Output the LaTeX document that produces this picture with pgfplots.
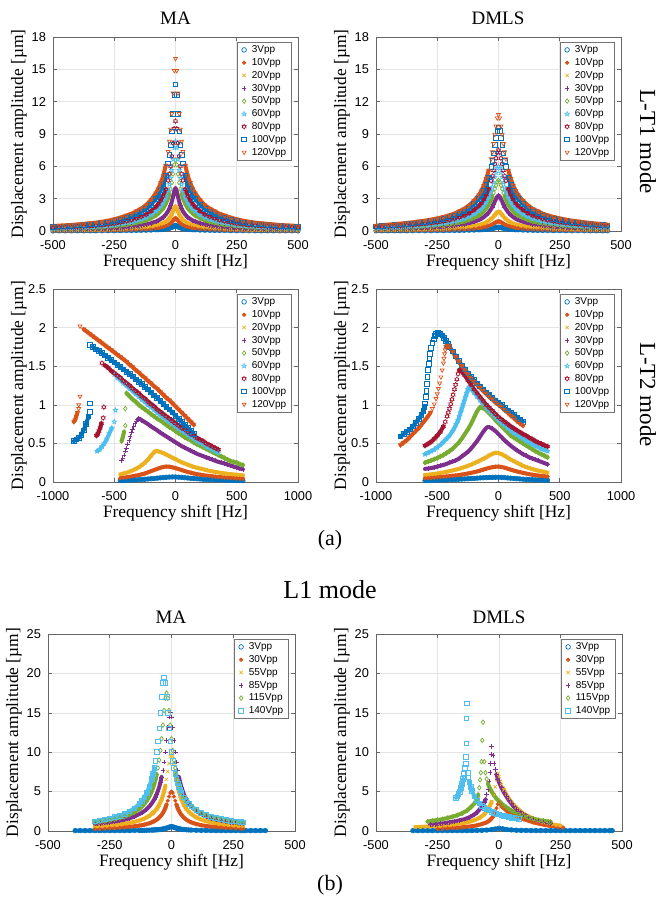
\documentclass[border=0pt]{standalone}
\usepackage{fontspec}
\setmainfont{Liberation Serif}
\newfontfamily\sansf{Liberation Sans}
\usepackage{pgfplots}
\pgfplotsset{compat=1.18}
\usepackage{pgfplotstable}
\usetikzlibrary{plotmarks}
\definecolor{c1}{rgb}{0,0.447,0.741}
\definecolor{c2}{rgb}{0.850,0.325,0.098}
\definecolor{c3}{rgb}{0.929,0.694,0.125}
\definecolor{c4}{rgb}{0.494,0.184,0.556}
\definecolor{c5}{rgb}{0.466,0.674,0.188}
\definecolor{c6}{rgb}{0.301,0.745,0.933}
\definecolor{c7}{rgb}{0.635,0.078,0.184}
\newcommand\tickfont{\sansf\fontsize{6.4}{7}\selectfont}
\newcommand\legfont{\sansf\fontsize{5}{5.8}\selectfont}
\newcommand\labfont{\fontsize{8.7}{10}\selectfont}
\newcommand\plotc[2]{\edef\plotctmp{\noexpand\addplot[#1] coordinates {#2};}\plotctmp}

% hollow pentagram and hexagram marks (MATLAB-like)
\pgfdeclareplotmark{penta}{%
  \pgfpathmoveto{\pgfpointpolar{90}{\pgfplotmarksize}}%
  \pgfpathlineto{\pgfpointpolar{126}{0.42\pgfplotmarksize}}%
  \pgfpathlineto{\pgfpointpolar{162}{\pgfplotmarksize}}%
  \pgfpathlineto{\pgfpointpolar{198}{0.42\pgfplotmarksize}}%
  \pgfpathlineto{\pgfpointpolar{234}{\pgfplotmarksize}}%
  \pgfpathlineto{\pgfpointpolar{270}{0.42\pgfplotmarksize}}%
  \pgfpathlineto{\pgfpointpolar{306}{\pgfplotmarksize}}%
  \pgfpathlineto{\pgfpointpolar{342}{0.42\pgfplotmarksize}}%
  \pgfpathlineto{\pgfpointpolar{18}{\pgfplotmarksize}}%
  \pgfpathlineto{\pgfpointpolar{54}{0.42\pgfplotmarksize}}%
  \pgfpathclose\pgfusepathqstroke}
\pgfdeclareplotmark{hexa}{%
  \pgfpathmoveto{\pgfpointpolar{90}{\pgfplotmarksize}}%
  \pgfpathlineto{\pgfpointpolar{120}{0.6\pgfplotmarksize}}%
  \pgfpathlineto{\pgfpointpolar{150}{\pgfplotmarksize}}%
  \pgfpathlineto{\pgfpointpolar{180}{0.6\pgfplotmarksize}}%
  \pgfpathlineto{\pgfpointpolar{210}{\pgfplotmarksize}}%
  \pgfpathlineto{\pgfpointpolar{240}{0.6\pgfplotmarksize}}%
  \pgfpathlineto{\pgfpointpolar{270}{\pgfplotmarksize}}%
  \pgfpathlineto{\pgfpointpolar{300}{0.6\pgfplotmarksize}}%
  \pgfpathlineto{\pgfpointpolar{330}{\pgfplotmarksize}}%
  \pgfpathlineto{\pgfpointpolar{0}{0.6\pgfplotmarksize}}%
  \pgfpathlineto{\pgfpointpolar{30}{\pgfplotmarksize}}%
  \pgfpathlineto{\pgfpointpolar{60}{0.6\pgfplotmarksize}}%
  \pgfpathclose\pgfusepathqstroke}

\pgfplotstableread{
f a3 a10 a20 a30 a50 a60 a80 a100 a120
-500 .01 .03 .07 .12 .19 .24 .30 .39 .46
-475 .02 .04 .07 .12 .20 .26 .32 .42 .50
-450 .02 .04 .08 .13 .22 .27 .34 .45 .53
-425 .02 .04 .08 .14 .23 .29 .36 .48 .56
-400 .02 .05 .09 .15 .25 .32 .39 .52 .61
-375 .02 .05 .09 .16 .27 .34 .42 .56 .66
-350 .02 .05 .10 .18 .30 .37 .46 .61 .72
-325 .02 .06 .11 .20 .32 .41 .50 .67 .78
-300 .03 .06 .12 .22 .36 .45 .55 .73 .86
-275 .03 .07 .14 .24 .40 .50 .61 .82 .96
-250 .03 .08 .16 .27 .45 .56 .69 .92 1.09
-225 .04 .09 .18 .31 .51 .65 .80 1.06 1.25
-200 .05 .11 .21 .36 .59 .75 .92 1.22 1.44
-180 .05 .12 .23 .40 .66 .83 1.02 1.36 1.60
-160 .06 .14 .26 .46 .76 .95 1.17 1.56 1.84
-140 .07 .16 .30 .52 .86 1.08 1.33 1.77 2.08
-120 .08 .18 .35 .60 .99 1.25 1.53 2.04 2.40
-100 .09 .22 .41 .72 1.19 1.49 1.84 2.45 2.88
-80 .11 .26 .51 .88 1.45 1.83 2.24 2.99 3.52
-70 .12 .29 .56 .98 1.62 2.03 2.50 3.33 3.92
-60 .14 .34 .64 1.12 1.85 2.32 2.86 3.81 4.48
-50 .16 .38 .74 1.28 2.11 2.66 3.26 4.35 5.12
-40 .19 .46 .87 1.52 2.51 3.15 3.88 5.17 6.08
-30 .23 .55 1.06 1.84 3.04 3.82 4.69 6.26 7.36
-25 .26 .62 1.20 2.08 3.43 4.32 5.30 7.07 8.32
-20 .30 .71 1.36 2.36 3.89 4.90 6.02 8.02 9.44
-15 .34 .82 1.56 2.72 4.49 5.64 6.94 9.25 10.88
-10 .40 .96 1.84 3.20 5.28 6.64 8.16 10.88 12.80
-5 .47 1.12 2.14 3.72 6.14 7.72 9.49 12.65 14.88
0 .50 1.20 2.30 4.00 6.60 8.30 10.20 13.60 16.00
5 .47 1.12 2.14 3.72 6.14 7.72 9.49 12.65 14.88
10 .40 .96 1.84 3.20 5.28 6.64 8.16 10.88 12.80
15 .34 .82 1.56 2.72 4.49 5.64 6.94 9.25 10.88
20 .30 .71 1.36 2.36 3.89 4.90 6.02 8.02 9.44
25 .26 .62 1.20 2.08 3.43 4.32 5.30 7.07 8.32
30 .23 .55 1.06 1.84 3.04 3.82 4.69 6.26 7.36
40 .19 .46 .87 1.52 2.51 3.15 3.88 5.17 6.08
50 .16 .38 .74 1.28 2.11 2.66 3.26 4.35 5.12
60 .14 .34 .64 1.12 1.85 2.32 2.86 3.81 4.48
70 .12 .29 .56 .98 1.62 2.03 2.50 3.33 3.92
80 .11 .26 .51 .88 1.45 1.83 2.24 2.99 3.52
100 .09 .22 .41 .72 1.19 1.49 1.84 2.45 2.88
120 .08 .18 .35 .60 .99 1.25 1.53 2.04 2.40
140 .07 .16 .30 .52 .86 1.08 1.33 1.77 2.08
160 .06 .14 .26 .46 .76 .95 1.17 1.56 1.84
180 .05 .12 .23 .40 .66 .83 1.02 1.36 1.60
200 .05 .11 .21 .36 .59 .75 .92 1.22 1.44
225 .04 .09 .18 .31 .51 .65 .80 1.06 1.25
250 .03 .08 .16 .27 .45 .56 .69 .92 1.09
275 .03 .07 .14 .24 .40 .50 .61 .82 .96
300 .03 .06 .12 .22 .36 .45 .55 .73 .86
325 .02 .06 .11 .20 .32 .41 .50 .67 .78
350 .02 .05 .10 .18 .30 .37 .46 .61 .72
375 .02 .05 .09 .16 .27 .34 .42 .56 .66
400 .02 .05 .09 .15 .25 .32 .39 .52 .61
425 .02 .04 .08 .14 .23 .29 .36 .48 .56
450 .02 .04 .08 .13 .22 .27 .34 .45 .53
475 .02 .04 .07 .12 .20 .26 .32 .42 .50
500 .01 .03 .07 .12 .19 .24 .30 .39 .46
}\maLTone

\pgfplotstableread{
f a3 a10 a20 a30 a50 a60 a80 a100 a120
-500 .02 .04 .08 .15 .22 .28 .35 .44 .50
-475 .02 .05 .09 .17 .24 .30 .38 .48 .54
-450 .02 .05 .10 .18 .26 .33 .41 .53 .59
-425 .02 .05 .11 .19 .28 .35 .44 .57 .64
-400 .02 .06 .12 .21 .30 .38 .48 .61 .69
-375 .02 .06 .12 .23 .32 .41 .52 .66 .75
-350 .03 .07 .14 .25 .35 .45 .56 .72 .81
-325 .03 .07 .15 .27 .39 .49 .62 .79 .89
-300 .03 .08 .16 .29 .42 .53 .67 .85 .96
-275 .03 .09 .18 .32 .46 .59 .74 .94 1.06
-250 .04 .10 .19 .36 .51 .65 .81 1.04 1.17
-225 .04 .11 .22 .40 .56 .72 .90 1.15 1.30
-200 .05 .12 .24 .45 .63 .81 1.01 1.30 1.46
-180 .05 .14 .27 .50 .71 .90 1.13 1.44 1.62
-160 .06 .15 .31 .56 .80 1.02 1.28 1.63 1.84
-140 .07 .17 .34 .63 .89 1.14 1.43 1.82 2.05
-120 .08 .20 .40 .73 1.03 1.32 1.65 2.11 2.38
-100 .09 .23 .47 .86 1.22 1.56 1.95 2.50 2.81
-80 .11 .28 .56 1.02 1.46 1.86 2.33 2.98 3.35
-70 .12 .31 .62 1.14 1.62 2.07 2.59 3.31 3.73
-60 .14 .35 .70 1.29 1.83 2.34 2.93 3.74 4.21
-50 .16 .41 .81 1.49 2.12 2.70 3.38 4.32 4.86
-40 .18 .47 .94 1.72 2.44 3.12 3.90 4.99 5.62
-30 .22 .56 1.12 2.05 2.91 3.72 4.65 5.95 6.70
-25 .24 .61 1.22 2.24 3.20 4.08 5.10 6.53 7.34
-20 .26 .68 1.35 2.48 3.53 4.50 5.63 7.20 8.10
-15 .29 .75 1.49 2.74 3.90 4.98 6.23 7.97 8.96
-10 .32 .81 1.62 2.97 4.23 5.40 6.75 8.64 9.72
-5 .34 .87 1.75 3.20 4.56 5.82 7.28 9.31 10.48
0 .35 .90 1.80 3.30 4.70 6.00 7.50 9.60 10.80
5 .34 .87 1.75 3.20 4.56 5.82 7.28 9.31 10.48
10 .32 .81 1.62 2.97 4.23 5.40 6.75 8.64 9.72
15 .29 .75 1.49 2.74 3.90 4.98 6.23 7.97 8.96
20 .26 .68 1.35 2.48 3.53 4.50 5.63 7.20 8.10
25 .24 .61 1.22 2.24 3.20 4.08 5.10 6.53 7.34
30 .22 .56 1.12 2.05 2.91 3.72 4.65 5.95 6.70
40 .18 .47 .94 1.72 2.44 3.12 3.90 4.99 5.62
50 .16 .41 .81 1.49 2.12 2.70 3.38 4.32 4.86
60 .14 .35 .70 1.29 1.83 2.34 2.93 3.74 4.21
70 .12 .31 .62 1.14 1.62 2.07 2.59 3.31 3.73
80 .11 .28 .56 1.02 1.46 1.86 2.33 2.98 3.35
100 .09 .23 .47 .86 1.22 1.56 1.95 2.50 2.81
120 .08 .20 .40 .73 1.03 1.32 1.65 2.11 2.38
140 .07 .17 .34 .63 .89 1.14 1.43 1.82 2.05
160 .06 .15 .31 .56 .80 1.02 1.28 1.63 1.84
180 .05 .14 .27 .50 .71 .90 1.13 1.44 1.62
200 .05 .12 .24 .45 .63 .81 1.01 1.30 1.46
225 .04 .11 .22 .40 .56 .72 .90 1.15 1.30
250 .04 .10 .19 .36 .51 .65 .81 1.04 1.17
275 .03 .09 .18 .32 .46 .59 .74 .94 1.06
300 .03 .08 .16 .29 .42 .53 .67 .85 .96
325 .03 .07 .15 .27 .39 .49 .62 .79 .89
350 .03 .07 .14 .25 .35 .45 .56 .72 .81
375 .02 .06 .12 .23 .32 .41 .52 .66 .75
400 .02 .06 .12 .21 .30 .38 .48 .61 .69
425 .02 .05 .11 .19 .28 .35 .44 .57 .64
445 .02 .05 .10 .18 .26 .34 .42 .54 .60
}\dmLTone

\pgfplotstableread{
x a3 a30 a55 a85 a115 a140
-390 .05 nan nan nan nan nan
-370 .05 nan nan nan nan nan
-350 .05 nan nan nan nan nan
-330 .05 nan nan nan nan nan
-310 .05 .29 .57 .89 1.09 1.25
-290 .05 .31 .61 .95 1.16 1.35
-270 .05 .33 .65 1.01 1.26 1.46
-250 .05 .36 .71 1.10 1.37 1.60
-230 .05 .39 .76 1.20 1.49 1.76
-210 .05 .43 .83 1.31 1.65 1.94
-190 .05 .47 .92 1.46 1.84 2.18
-170 .06 .53 1.03 1.62 2.08 2.50
-150 .07 .60 1.17 1.85 2.40 2.89
-130 .08 .69 1.34 2.15 2.82 3.45
-120 .08 .74 1.45 2.33 3.10 3.82
-110 .09 .81 1.58 2.54 3.43 4.29
-100 .10 .89 1.73 2.79 3.85 4.86
-90 .11 .98 1.92 3.11 4.36 5.60
-80 .12 1.10 2.16 3.50 5.02 6.61
-75 .13 1.17 2.28 3.74 5.44 7.23
-70 .14 1.25 2.44 4.01 5.93 8.00
-65 .15 1.34 2.62 4.31 6.49 8.91
-60 .16 1.44 2.81 4.67 7.18 10.02
-55 .17 1.56 3.05 5.09 8.00 11.39
-50 .19 1.70 3.32 5.57 9.00 13.05
-45 .20 1.86 3.64 6.15 10.22 14.98
-40 .23 2.05 4.02 6.86 11.71 17.04
-35 .25 2.29 4.48 7.71 13.44 18.78
-30 .28 2.57 5.04 8.76 15.30 19.50
-25 .32 2.92 5.72 10.04 16.85 18.78
-20 .37 3.35 6.56 11.52 17.50 17.04
-15 .42 3.84 7.53 13.11 16.85 14.98
-10 .48 4.37 8.57 14.45 15.30 13.05
-5 .53 4.82 9.44 15.00 13.44 11.39
0 .55 5.00 9.80 14.45 11.71 10.02
5 .53 4.82 9.44 13.11 10.22 8.91
10 .48 4.37 8.57 11.52 9.00 8.00
15 .42 3.84 7.53 10.04 8.00 7.23
20 .37 3.35 6.56 8.76 7.18 6.61
25 .32 2.92 5.72 7.71 6.49 6.06
30 .28 2.57 5.04 6.86 5.93 5.60
35 .25 2.29 4.48 6.15 5.44 5.21
40 .23 2.05 4.02 5.57 5.02 4.86
50 .19 1.70 3.32 4.67 4.36 4.29
60 .16 1.44 2.81 4.01 3.85 3.82
70 .14 1.25 2.44 3.50 3.43 3.45
80 .12 1.10 2.16 3.11 3.10 3.14
100 .10 .89 1.73 2.54 2.59 2.67
120 .08 .74 1.45 2.15 2.24 2.32
140 .07 .64 1.25 1.85 1.96 2.05
160 .06 .56 1.10 1.62 1.74 1.83
180 .05 .50 .98 1.46 1.58 1.66
200 .05 .45 .88 1.31 1.44 1.52
220 .05 .41 .80 1.20 1.31 1.40
240 .05 .38 .74 1.10 1.21 1.29
260 .05 .35 .68 1.01 1.12 1.21
280 .05 .32 .63 .95 1.05 1.13
290 .05 .31 .61 .93 1.02 1.09
300 .05 nan nan nan nan nan
320 .05 nan nan nan nan nan
340 .05 nan nan nan nan nan
360 .05 nan nan nan nan nan
380 .05 nan nan nan nan nan
}\maLone

% ---- L-T2 MA series
\def\mtA{(-450,.02)(-425,.02)(-400,.022)(-375,.024)(-350,.026)(-325,.028)(-300,.03)(-275,.033)(-250,.036)(-225,.039)(-200,.042)(-175,.046)(-150,.05)(-125,.054)(-100,.058)(-75,.061)(-50,.064)(-25,.065)(0,.065)(25,.063)(50,.06)(75,.056)(100,.052)(125,.048)(150,.045)(175,.042)(200,.039)(225,.036)(250,.034)(275,.032)(300,.03)(325,.028)(350,.027)(375,.026)(400,.024)(425,.023)(450,.022)(475,.021)(500,.02)(525,.019)(550,.018)}
\def\mtB{(-450,.05)(-425,.055)(-400,.06)(-375,.067)(-350,.075)(-325,.082)(-300,.09)(-275,.1)(-250,.11)(-225,.125)(-200,.14)(-175,.155)(-150,.17)(-125,.183)(-100,.195)(-75,.2)(-50,.198)(-25,.19)(0,.18)(25,.168)(50,.155)(75,.142)(100,.13)(125,.12)(150,.11)(175,.102)(200,.095)(225,.089)(250,.083)(275,.078)(300,.073)(325,.069)(350,.065)(375,.061)(400,.058)(425,.055)(450,.052)(475,.05)(500,.047)(525,.045)(550,.043)}
\def\mtC{(-450,.10)(-425,.11)(-400,.12)(-375,.135)(-350,.15)(-325,.17)(-300,.19)(-275,.22)(-250,.25)(-225,.29)(-200,.34)(-175,.385)(-160,.40)(-150,.40)(-125,.39)(-100,.375)(-75,.355)(-50,.335)(-25,.315)(0,.295)(25,.275)(50,.255)(75,.24)(100,.225)(125,.21)(150,.195)(175,.185)(200,.175)(225,.165)(250,.155)(275,.145)(300,.138)(325,.13)(350,.124)(375,.118)(400,.112)(425,.107)(450,.102)(475,.098)(500,.094)(525,.09)(550,.087)}
\def\mtD{(-440,.28)(-430,.31)(-420,.35)(-410,.40)(-400,.44)(-390,.49)(-380,.54)(-370,.59)(-360,.64)(-350,.68)(-340,.72)(-330,.76)(-320,.79)(-310,.81)(-300,.82)(-290,.815)(-275,.80)(-250,.775)(-225,.75)(-200,.72)(-175,.695)(-150,.67)(-125,.64)(-100,.615)(-75,.59)(-50,.565)(-25,.54)(0,.515)(25,.49)(50,.465)(75,.445)(100,.425)(125,.405)(150,.385)(175,.365)(200,.35)(225,.335)(250,.32)(275,.305)(300,.29)(325,.275)(350,.26)(375,.25)(400,.24)(425,.225)(450,.215)(475,.2)(500,.19)(525,.175)(550,.165)}
\def\mtE{(550,.22)(525,.23)(500,.25)(475,.26)(450,.27)(425,.29)(400,.31)(375,.33)(350,.35)(325,.37)(300,.39)(275,.41)(250,.43)(225,.45)(200,.47)(175,.49)(150,.51)(125,.54)(100,.56)(75,.58)(50,.61)(25,.63)(0,.66)(-25,.69)(-50,.71)(-75,.74)(-100,.77)(-125,.80)(-150,.82)(-175,.85)(-200,.88)(-225,.91)(-250,.94)(-275,.97)(-300,1.0)(-325,1.04)(-350,1.07)(-375,1.11)(-400,1.15)(-410,.95)(-410,.73)(-420,.65)(-430,.58)(-440,.53)}
\def\mtF{(350,.38)(325,.40)(300,.42)(275,.44)(250,.46)(225,.49)(200,.51)(175,.53)(150,.56)(125,.58)(100,.61)(75,.64)(50,.66)(25,.69)(0,.72)(-25,.75)(-50,.78)(-75,.81)(-100,.84)(-125,.87)(-150,.90)(-175,.94)(-200,.97)(-225,1.0)(-250,1.04)(-275,1.07)(-300,1.11)(-325,1.14)(-350,1.18)(-375,1.21)(-400,1.25)(-425,1.28)(-450,1.32)(-475,1.35)(-500,1.39)(-490,.93)(-500,.78)(-520,.70)(-540,.63)(-560,.56)(-580,.50)(-600,.46)(-620,.42)(-640,.40)}
\def\mtG{(350,.42)(325,.44)(300,.46)(275,.48)(250,.50)(225,.53)(200,.55)(175,.57)(150,.60)(125,.62)(100,.65)(75,.68)(50,.70)(25,.73)(0,.76)(-25,.79)(-50,.82)(-75,.85)(-100,.88)(-125,.91)(-150,.94)(-175,.98)(-200,1.01)(-225,1.04)(-250,1.08)(-275,1.11)(-300,1.15)(-325,1.18)(-350,1.21)(-375,1.25)(-400,1.28)(-425,1.31)(-450,1.35)(-475,1.38)(-500,1.41)(-525,1.44)(-550,1.48)(-575,1.51)(-600,1.54)(-585,.97)(-590,.83)(-605,.76)(-615,.70)(-625,.66)(-635,.62)(-645,.60)}
\def\mtH{(150,.62)(125,.66)(100,.70)(75,.74)(50,.78)(25,.82)(0,.86)(-25,.90)(-50,.94)(-75,.97)(-100,1.01)(-125,1.05)(-150,1.09)(-175,1.12)(-200,1.16)(-225,1.20)(-250,1.23)(-275,1.27)(-300,1.30)(-325,1.33)(-350,1.37)(-375,1.40)(-400,1.43)(-425,1.46)(-450,1.49)(-475,1.52)(-500,1.55)(-525,1.58)(-550,1.61)(-575,1.64)(-600,1.67)(-625,1.70)(-650,1.72)(-675,1.75)(-700,1.78)(-700,1.02)(-700,.91)(-710,.85)(-730,.75)(-750,.67)(-770,.61)(-790,.57)(-810,.55)(-830,.53)}
\def\mtI{(150,.74)(125,.78)(100,.82)(75,.86)(50,.90)(25,.94)(0,.98)(-25,1.02)(-50,1.06)(-75,1.09)(-100,1.13)(-125,1.17)(-150,1.21)(-175,1.24)(-200,1.28)(-225,1.31)(-250,1.35)(-275,1.38)(-300,1.42)(-325,1.45)(-350,1.49)(-375,1.52)(-400,1.56)(-425,1.59)(-450,1.62)(-475,1.65)(-500,1.68)(-525,1.71)(-550,1.74)(-575,1.77)(-600,1.80)(-625,1.83)(-650,1.86)(-675,1.89)(-700,1.92)(-725,1.95)(-750,1.98)(-780,2.02)(-780,1.11)(-790,1.0)(-790,.95)(-800,.90)(-810,.85)(-820,.80)(-830,.78)}

% ---- L-T2 DMLS series
\def\dtA{(-600,.02)(-575,.02)(-550,.022)(-525,.023)(-500,.024)(-475,.025)(-450,.026)(-425,.028)(-400,.03)(-375,.032)(-350,.034)(-325,.036)(-300,.038)(-275,.04)(-250,.042)(-225,.045)(-200,.047)(-175,.05)(-150,.053)(-125,.055)(-100,.057)(-75,.059)(-50,.06)(-25,.061)(0,.062)(25,.06)(50,.057)(75,.053)(100,.05)(125,.046)(150,.043)(175,.04)(200,.037)(225,.034)(250,.032)(275,.03)(300,.028)(325,.026)(350,.025)(375,.023)(400,.022)}
\def\dtB{(-600,.05)(-575,.052)(-550,.055)(-525,.058)(-500,.061)(-475,.064)(-450,.068)(-425,.072)(-400,.076)(-375,.08)(-350,.085)(-325,.09)(-300,.096)(-275,.103)(-250,.11)(-225,.118)(-200,.127)(-175,.137)(-150,.148)(-125,.16)(-100,.172)(-75,.183)(-50,.192)(-25,.198)(0,.2)(25,.195)(50,.185)(75,.172)(100,.16)(125,.148)(150,.137)(175,.127)(200,.118)(225,.11)(250,.102)(275,.095)(300,.089)(325,.083)(350,.078)(375,.074)(400,.07)}
\def\dtC{(-600,.09)(-575,.095)(-550,.1)(-525,.105)(-500,.11)(-475,.117)(-450,.124)(-425,.132)(-400,.14)(-375,.15)(-350,.16)(-325,.17)(-300,.182)(-275,.195)(-250,.21)(-225,.225)(-200,.242)(-175,.26)(-150,.28)(-125,.30)(-100,.32)(-75,.345)(-50,.365)(-25,.38)(0,.375)(25,.36)(50,.34)(75,.315)(100,.29)(125,.27)(150,.25)(175,.23)(200,.21)(225,.195)(250,.18)(275,.168)(300,.157)(325,.147)(350,.138)(375,.13)(400,.122)}
\def\dtD{(-600,.17)(-575,.175)(-550,.18)(-525,.19)(-500,.20)(-475,.21)(-450,.22)(-425,.235)(-400,.25)(-375,.265)(-350,.28)(-325,.30)(-300,.33)(-275,.36)(-250,.39)(-225,.43)(-200,.48)(-175,.53)(-150,.59)(-125,.65)(-110,.68)(-100,.70)(-90,.71)(-75,.71)(-60,.70)(-50,.69)(-25,.66)(0,.62)(25,.58)(50,.54)(75,.505)(100,.47)(125,.44)(150,.41)(175,.385)(200,.36)(225,.34)(250,.32)(275,.305)(300,.29)(325,.275)(350,.26)(375,.245)(400,.23)}
\def\dtE{(-600,.25)(-575,.265)(-550,.28)(-525,.295)(-500,.31)(-475,.33)(-450,.35)(-425,.375)(-400,.40)(-375,.43)(-350,.47)(-325,.51)(-300,.56)(-275,.62)(-250,.68)(-225,.75)(-210,.80)(-195,.85)(-180,.90)(-165,.94)(-150,.97)(-135,.965)(-125,.96)(-100,.93)(-75,.89)(-50,.85)(-25,.80)(0,.76)(25,.72)(50,.68)(75,.64)(100,.60)(125,.575)(150,.55)(175,.525)(200,.50)(225,.475)(250,.45)(275,.425)(300,.40)(325,.38)(350,.36)(375,.34)(400,.32)}
\def\dtF{(-600,.36)(-575,.38)(-550,.40)(-525,.42)(-500,.45)(-475,.48)(-450,.52)(-425,.56)(-400,.60)(-375,.66)(-360,.70)(-345,.75)(-330,.80)(-320,.85)(-310,.90)(-300,.95)(-290,1.0)(-280,1.05)(-270,1.10)(-260,1.15)(-250,1.2)(-240,1.23)(-225,1.21)(-200,1.16)(-175,1.11)(-150,1.06)(-125,1.01)(-100,.96)(-75,.92)(-50,.88)(-25,.84)(0,.80)(25,.76)(50,.73)(75,.695)(100,.66)(125,.635)(150,.61)(175,.585)(200,.56)(225,.535)(250,.51)(275,.49)(300,.47)(325,.45)(350,.43)(375,.415)(400,.40)}
\def\dtG{(-600,.47)(-575,.495)(-550,.52)(-525,.56)(-500,.60)(-475,.65)(-450,.72)(-435,.78)(-420,.85)(-410,.90)(-400,.95)(-390,1.01)(-380,1.07)(-370,1.13)(-360,1.20)(-350,1.26)(-340,1.33)(-330,1.40)(-320,1.45)(-310,1.45)(-300,1.43)(-275,1.38)(-250,1.32)(-225,1.26)(-200,1.20)(-175,1.15)(-150,1.10)(-125,1.05)(-100,1.00)(-75,.96)(-50,.92)(-25,.88)(0,.84)(25,.81)(50,.78)(75,.75)(100,.72)(125,.695)(150,.67)(175,.645)(200,.62)(225,.60)(250,.575)(275,.555)(300,.53)(325,.51)(350,.495)(375,.475)(400,.46)}
\def\dtH{(-800,.59)(-775,.62)(-750,.65)(-725,.68)(-700,.72)(-675,.77)(-650,.82)(-630,.87)(-615,.92)(-605,.97)(-600,1.02)(-595,1.1)(-590,1.18)(-585,1.27)(-580,1.36)(-575,1.45)(-570,1.53)(-565,1.6)(-560,1.66)(-550,1.74)(-540,1.8)(-530,1.85)(-520,1.89)(-510,1.92)(-500,1.93)(-490,1.93)(-475,1.92)(-460,1.90)(-445,1.87)(-430,1.83)(-415,1.79)(-400,1.75)(-375,1.69)(-350,1.63)(-325,1.57)(-300,1.51)(-275,1.46)(-250,1.41)(-225,1.36)(-200,1.32)(-175,1.28)(-150,1.24)(-125,1.20)(-100,1.16)(-75,1.13)(-50,1.09)(-25,1.06)(0,1.03)(25,1.0)(50,.96)(75,.93)(100,.90)(125,.87)(150,.84)(175,.81)(200,.78)}
\def\dtI{(-800,.48)(-775,.51)(-750,.54)(-725,.58)(-700,.62)(-675,.66)(-650,.70)(-625,.75)(-600,.80)(-575,.85)(-555,.90)(-540,.95)(-525,1.01)(-510,1.08)(-500,1.14)(-490,1.21)(-480,1.28)(-470,1.36)(-460,1.45)(-450,1.54)(-445,1.60)(-440,1.66)(-435,1.71)(-430,1.75)(-420,1.77)(-410,1.77)(-400,1.75)(-375,1.69)(-350,1.62)(-325,1.56)(-300,1.50)(-275,1.44)(-250,1.39)(-225,1.34)(-200,1.30)(-175,1.26)(-150,1.22)(-125,1.18)(-100,1.14)(-75,1.10)(-50,1.07)(-25,1.03)(0,1.0)(25,.97)(50,.93)(75,.90)(100,.86)(125,.83)(150,.79)(175,.76)(200,.73)}

% ---- L1 DMLS series
\def\dlA{(-350,.05)(-330,.05)(-310,.05)(-290,.05)(-270,.05)(-250,.05)(-230,.05)(-210,.05)(-190,.05)(-170,.05)(-150,.05)(-130,.05)(-110,.06)(-90,.07)(-70,.09)(-50,.12)(-30,.18)(-15,.26)(0,.35)(15,.28)(30,.2)(50,.14)(70,.1)(90,.08)(110,.07)(130,.06)(150,.06)(170,.05)(190,.05)(210,.05)(230,.05)(250,.05)(270,.05)(290,.05)(310,.05)(330,.05)(350,.05)(370,.05)(390,.05)(410,.05)(430,.05)(450,.05)(460,.05)}
\def\dlB{(-250,.30)(-230,.32)(-210,.35)(-190,.38)(-170,.42)(-150,.47)(-130,.53)(-110,.61)(-90,.72)(-70,.88)(-50,1.1)(-40,1.3)(-30,1.6)(-20,2.0)(-15,2.4)(-10,2.9)(-5,3.4)(0,3.6)(5,3.4)(10,3.1)(15,3.0)(20,2.9)(30,2.6)(40,2.4)(50,2.2)(60,2.0)(70,1.9)(80,1.75)(100,1.5)(120,1.3)(140,1.1)(160,.95)(180,.82)(200,.7)(220,.6)(240,.5)(260,.43)}
\def\dlC{(-340,.5)(-320,.52)(-300,.55)(-280,.58)(-260,.62)(-240,.66)(-220,.71)(-200,.77)(-180,.84)(-160,.93)(-140,1.04)(-120,1.18)(-100,1.38)(-80,1.65)(-60,2.1)(-50,2.5)(-40,3.0)(-30,3.7)(-20,4.6)(-15,5.6)(-10,6.5)(-5,7.3)(0,6.9)(5,6.3)(10,5.9)(15,5.5)(20,5.2)(30,4.6)(40,4.1)(50,3.7)(60,3.3)(70,3.0)(80,2.7)(100,2.2)(120,1.85)(140,1.55)(160,1.3)(180,1.1)(200,.95)(220,.82)(240,.72)(250,.68)}
\def\dlD{(-280,.8)(-260,.85)(-240,.92)(-220,1.0)(-200,1.1)(-180,1.2)(-160,1.35)(-140,1.5)(-120,1.75)(-100,2.1)(-90,2.35)(-80,2.7)(-70,3.1)(-60,3.6)(-55,4.0)(-50,4.6)(-45,5.3)(-40,6.3)(-37,7.4)(-35,8.6)(-33,9.7)(-30,10.7)(-25,9.6)(-20,8.6)(-15,7.8)(-10,7.2)(-5,6.6)(0,6.2)(10,5.5)(20,4.9)(30,4.4)(40,3.9)(50,3.5)(60,3.1)(70,2.8)(80,2.5)(100,2.1)(120,1.75)(140,1.5)(160,1.3)(180,1.15)(200,1.0)(210,.95)}
\def\dlE{(-290,1.2)(-270,1.3)(-250,1.4)(-230,1.5)(-210,1.65)(-190,1.8)(-170,2.0)(-150,2.25)(-130,2.6)(-115,3.0)(-100,3.5)(-90,4.0)(-85,4.6)(-80,5.5)(-77,6.5)(-74,7.4)(-71,8.8)(-68,11.5)(-65,13.8)(-60,8.8)(-55,7.4)(-50,6.6)(-45,6.0)(-40,5.6)(-30,5.0)(-20,4.5)(-10,4.1)(0,3.8)(10,3.5)(20,3.2)(30,3.0)(40,2.8)(50,2.6)(60,2.4)(80,2.1)(100,1.9)(120,1.7)(140,1.55)(160,1.4)(180,1.3)(200,1.2)(210,1.15)}
\def\dlF{(-175,4.2)(-170,4.4)(-165,4.7)(-160,5.0)(-155,5.5)(-150,6.0)(-146,6.6)(-142,7.3)(-139,8.0)(-136,8.5)(-134,9.4)(-133,11.1)(-132,14.3)(-131,16.2)(-127,7.4)(-124,6.8)(-120,6.2)(-115,5.6)(-110,5.1)(-100,4.4)(-90,3.9)(-80,3.5)(-70,3.2)(-60,2.95)(-50,2.75)(-40,2.6)(-30,2.45)(-20,2.3)(-10,2.2)(0,2.1)(10,2.0)(20,1.9)(30,1.85)(40,1.8)(50,1.7)(60,1.65)(70,1.6)(80,1.55)}

\pgfplotsset{
  mk/.style={only marks, mark size=1.15pt, line width=0.35pt},
  band/.style={forget plot, no markers, line width=2pt, line join=round, line cap=round},
  s3/.style={mk, color=c1, mark=o},
  s10/.style={mk, color=c2, mark=*, mark size=0.85pt},
  s20/.style={mk, color=c3, mark=x},
  s30/.style={mk, color=c4, mark=+},
  s50/.style={mk, color=c5, mark=diamond},
  s60/.style={mk, color=c6, mark=penta},
  s80/.style={mk, color=c7, mark=hexa},
  s100/.style={mk, color=c1, mark=square},
  s120/.style={mk, color=c2, mark=triangle, mark options={rotate=180}},
  s140/.style={mk, color=c6, mark=square},
  myax/.style={
    scale only axis, anchor=north west, clip=false,
    axis line style={black!60, line width=0.3pt},
    tick style={black!60, line width=0.3pt},
    major tick length=2pt,
    grid=major, major grid style={black!10, line width=0.3pt},
    ticklabel style={font=\tickfont},
    xticklabel style={yshift=-1pt},
    xlabel={Frequency shift [Hz]},
    ylabel={Displacement amplitude [µm]},
    label style={font=\labfont},
    xlabel style={at={(axis description cs:0.5,-0.16)}, anchor=center},
    ylabel style={at={(axis description cs:-0.139,0.5)}, anchor=center},
    legend cell align=left,
    legend image code/.code={\draw[mark repeat=2,mark phase=2,##1] plot coordinates {(0pt,0pt) (4pt,0pt) (8pt,0pt)};},
    legend style={font=\legfont, draw=black!55, line width=0.3pt, at={(1,1)}, anchor=north east,
      xshift=-3pt, yshift=-2.5pt, inner xsep=2.2pt, inner ysep=0.8pt, row sep=0.4pt,
      nodes={inner sep=0.5pt, text height=3.9pt, text depth=1.1pt},
      /tikz/every odd column/.append style={column sep=2.2pt}},
  },
  lt1/.style={xmin=-500,xmax=500,ymin=0,ymax=18,
    xtick={-500,-250,0,250,500}, xticklabels={-500,-250,0,250,500},
    ytick={0,3,6,9,12,15,18}, yticklabels={0,3,6,9,12,15,18}},
  lt2/.style={xmin=-1000,xmax=1000,ymin=0,ymax=2.5,
    xtick={-1000,-500,0,500,1000}, xticklabels={-1000,-500,0,500,1000},
    ytick={0,0.5,1,1.5,2,2.5}, yticklabels={0,0.5,1,1.5,2,2.5}},
  l1/.style={xmin=-500,xmax=500,ymin=0,ymax=25,
    xtick={-500,-250,0,250,500}, xticklabels={-500,-250,0,250,500},
    ytick={0,5,10,15,20,25}, yticklabels={0,5,10,15,20,25}},
}

\begin{document}
\begin{tikzpicture}
\path[use as bounding box] (0,0) rectangle (330pt,-452pt);

% ---------- L-T1 MA
\begin{axis}[myax, lt1, at={(26.5pt,-18.5pt)}, width=122.5pt, height=97pt]
\addplot[band,c1] table[x=f,y=a3]{\maLTone};
\addplot[s3] table[x=f,y=a3]{\maLTone};
\addplot[band,c2] table[x=f,y=a10]{\maLTone};
\addplot[s10] table[x=f,y=a10]{\maLTone};
\addplot[band,c3] table[x=f,y=a20]{\maLTone};
\addplot[s20] table[x=f,y=a20]{\maLTone};
\addplot[band,c4] table[x=f,y=a30]{\maLTone};
\addplot[s30] table[x=f,y=a30]{\maLTone};
\addplot[band,c5,restrict x to domain=-500:-25] table[x=f,y=a50]{\maLTone};
\addplot[band,c5,restrict x to domain=25:500] table[x=f,y=a50]{\maLTone};
\addplot[s50] table[x=f,y=a50]{\maLTone};
\addplot[band,c6,restrict x to domain=-500:-30] table[x=f,y=a60]{\maLTone};
\addplot[band,c6,restrict x to domain=30:500] table[x=f,y=a60]{\maLTone};
\addplot[s60] table[x=f,y=a60]{\maLTone};
\addplot[band,c7,restrict x to domain=-500:-40] table[x=f,y=a80]{\maLTone};
\addplot[band,c7,restrict x to domain=40:500] table[x=f,y=a80]{\maLTone};
\addplot[s80] table[x=f,y=a80]{\maLTone};
\addplot[band,c1,restrict x to domain=-500:-40] table[x=f,y=a100]{\maLTone};
\addplot[band,c1,restrict x to domain=40:500] table[x=f,y=a100]{\maLTone};
\addplot[s100] table[x=f,y=a100]{\maLTone};
\addplot[band,c2,restrict x to domain=-500:-40] table[x=f,y=a120]{\maLTone};
\addplot[band,c2,restrict x to domain=40:500] table[x=f,y=a120]{\maLTone};
\addplot[s120] table[x=f,y=a120]{\maLTone};
\legend{3Vpp,10Vpp,20Vpp,30Vpp,50Vpp,60Vpp,80Vpp,100Vpp,120Vpp}
\end{axis}

% ---------- L-T1 DMLS
\begin{axis}[myax, lt1, at={(188pt,-18.5pt)}, width=122.5pt, height=97pt]
\addplot[band,c1] table[x=f,y=a3]{\dmLTone};
\addplot[s3] table[x=f,y=a3]{\dmLTone};
\addplot[band,c2] table[x=f,y=a10]{\dmLTone};
\addplot[s10] table[x=f,y=a10]{\dmLTone};
\addplot[band,c3] table[x=f,y=a20]{\dmLTone};
\addplot[s20] table[x=f,y=a20]{\dmLTone};
\addplot[band,c4] table[x=f,y=a30]{\dmLTone};
\addplot[s30] table[x=f,y=a30]{\dmLTone};
\addplot[band,c5,restrict x to domain=-500:-25] table[x=f,y=a50]{\dmLTone};
\addplot[band,c5,restrict x to domain=25:500] table[x=f,y=a50]{\dmLTone};
\addplot[s50] table[x=f,y=a50]{\dmLTone};
\addplot[band,c6,restrict x to domain=-500:-30] table[x=f,y=a60]{\dmLTone};
\addplot[band,c6,restrict x to domain=30:500] table[x=f,y=a60]{\dmLTone};
\addplot[s60] table[x=f,y=a60]{\dmLTone};
\addplot[band,c7,restrict x to domain=-500:-40] table[x=f,y=a80]{\dmLTone};
\addplot[band,c7,restrict x to domain=40:500] table[x=f,y=a80]{\dmLTone};
\addplot[s80] table[x=f,y=a80]{\dmLTone};
\addplot[band,c1,restrict x to domain=-500:-40] table[x=f,y=a100]{\dmLTone};
\addplot[band,c1,restrict x to domain=40:500] table[x=f,y=a100]{\dmLTone};
\addplot[s100] table[x=f,y=a100]{\dmLTone};
\addplot[band,c2,restrict x to domain=-500:-40] table[x=f,y=a120]{\dmLTone};
\addplot[band,c2,restrict x to domain=40:500] table[x=f,y=a120]{\dmLTone};
\addplot[s120] table[x=f,y=a120]{\dmLTone};
\legend{3Vpp,10Vpp,20Vpp,30Vpp,50Vpp,60Vpp,80Vpp,100Vpp,120Vpp}
\end{axis}

% ---------- L-T2 MA
\begin{axis}[myax, lt2, at={(26.5pt,-144.5pt)}, width=122.5pt, height=96.5pt]
\plotc{band,c1}{\mtA}\plotc{s3}{\mtA}
\plotc{band,c2}{\mtB}\plotc{s10}{\mtB}
\plotc{band,c3}{\mtC}\plotc{s20}{\mtC}
\plotc{band,c4,restrict x to domain=-300:550}{\mtD}\plotc{s30}{\mtD}
\plotc{band,c5,restrict x to domain=-400:550}{\mtE}\plotc{band,c5,restrict x to domain=-445:-415}{\mtE}\plotc{s50}{\mtE}
\plotc{band,c6,restrict x to domain=-475:350}{\mtF}\plotc{band,c6,restrict x to domain=-650:-510}{\mtF}\plotc{s60}{\mtF}
\plotc{band,c7,restrict x to domain=-575:350}{\mtG}\plotc{band,c7,restrict x to domain=-650:-602}{\mtG}\plotc{s80}{\mtG}
\plotc{band,c1,restrict x to domain=-690:150}{\mtH}\plotc{band,c1,restrict x to domain=-840:-705}{\mtH}\plotc{s100}{\mtH}
\plotc{band,c2,restrict x to domain=-770:150}{\mtI}\plotc{band,c2,restrict x to domain=-840:-795}{\mtI}\plotc{s120}{\mtI}
\legend{3Vpp,10Vpp,20Vpp,30Vpp,50Vpp,60Vpp,80Vpp,100Vpp,120Vpp}
\end{axis}

% ---------- L-T2 DMLS
\begin{axis}[myax, lt2, at={(188pt,-144.5pt)}, width=122.5pt, height=96.5pt]
\plotc{band,c1}{\dtA}\plotc{s3}{\dtA}
\plotc{band,c2}{\dtB}\plotc{s10}{\dtB}
\plotc{band,c3}{\dtC}\plotc{s20}{\dtC}
\plotc{band,c4}{\dtD}\plotc{s30}{\dtD}
\plotc{band,c5}{\dtE}\plotc{s50}{\dtE}
\plotc{band,c6}{\dtF}\plotc{s60}{\dtF}
\plotc{band,c7,restrict x to domain=-600:-440}{\dtG}\plotc{band,c7,restrict x to domain=-320:400}{\dtG}\plotc{s80}{\dtG}
\plotc{band,c1,restrict x to domain=-800:-605}{\dtH}\plotc{band,c1,restrict x to domain=-510:200}{\dtH}\plotc{s100}{\dtH}
\plotc{band,c2,restrict x to domain=-800:-555}{\dtI}\plotc{band,c2,restrict x to domain=-430:200}{\dtI}\plotc{s120}{\dtI}
\legend{3Vpp,10Vpp,20Vpp,30Vpp,50Vpp,60Vpp,80Vpp,100Vpp,120Vpp}
\end{axis}

% ---------- L1 MA
\begin{axis}[myax, l1, at={(24pt,-317pt)}, width=123.5pt, height=98.5pt,
  ylabel style={at={(axis description cs:-0.138,0.5)}}, xlabel style={at={(axis description cs:0.5,-0.157)}}]
\addplot[band,c1] table[x=x,y=a3]{\maLone};
\addplot[s3] table[x=x,y=a3]{\maLone};
\addplot[band,c2,restrict x to domain=-310:-20] table[x=x,y=a30]{\maLone};
\addplot[band,c2,restrict x to domain=20:290] table[x=x,y=a30]{\maLone};
\addplot[s10] table[x=x,y=a30]{\maLone};
\addplot[band,c3,restrict x to domain=-310:-25] table[x=x,y=a55]{\maLone};
\addplot[band,c3,restrict x to domain=25:290] table[x=x,y=a55]{\maLone};
\addplot[s20] table[x=x,y=a55]{\maLone};
\addplot[band,c4,restrict x to domain=-310:-40] table[x=x,y=a85]{\maLone};
\addplot[band,c4,restrict x to domain=30:290] table[x=x,y=a85]{\maLone};
\addplot[s30] table[x=x,y=a85]{\maLone};
\addplot[band,c5,restrict x to domain=-310:-60] table[x=x,y=a115]{\maLone};
\addplot[band,c5,restrict x to domain=25:290] table[x=x,y=a115]{\maLone};
\addplot[s50] table[x=x,y=a115]{\maLone};
\addplot[band,c6,restrict x to domain=-310:-70] table[x=x,y=a140]{\maLone};
\addplot[band,c6,restrict x to domain=15:290] table[x=x,y=a140]{\maLone};
\addplot[s140] table[x=x,y=a140]{\maLone};
\legend{3Vpp,30Vpp,55Vpp,85Vpp,115Vpp,140Vpp}
\end{axis}

% ---------- L1 DMLS
\begin{axis}[myax, l1, at={(188pt,-317pt)}, width=123pt, height=98.5pt,
  ylabel style={at={(axis description cs:-0.138,0.5)}}, xlabel style={at={(axis description cs:0.5,-0.157)}}]
\plotc{band,c1}{\dlA}\plotc{s3}{\dlA}
\plotc{band,c2,restrict x to domain=-250:-20}{\dlB}\plotc{band,c2,restrict x to domain=15:260}{\dlB}\plotc{s10}{\dlB}
\plotc{band,c3,restrict x to domain=-340:-30}{\dlC}\plotc{band,c3,restrict x to domain=15:250}{\dlC}\plotc{s20}{\dlC}
\plotc{band,c4,restrict x to domain=-280:-55}{\dlD}\plotc{band,c4,restrict x to domain=-10:210}{\dlD}\plotc{s30}{\dlD}
\plotc{band,c5,restrict x to domain=-290:-85}{\dlE}\plotc{band,c5,restrict x to domain=-45:210}{\dlE}\plotc{s50}{\dlE}
\plotc{band,c6,restrict x to domain=-176:-145}{\dlF}\plotc{band,c6,restrict x to domain=-120:80}{\dlF}\plotc{s140}{\dlF}
\legend{3Vpp,30Vpp,55Vpp,85Vpp,115Vpp,140Vpp}
\end{axis}

% ---------- texts
\node[font=\fontsize{9.5}{11}\selectfont] at (87.75pt,-9pt) {MA};
\node[font=\fontsize{9.5}{11}\selectfont] at (249pt,-9pt) {DMLS};
\node[font=\fontsize{11.5}{13}\selectfont, rotate=-90] at (324pt,-71pt) {L-T1 mode};
\node[font=\fontsize{11.5}{13}\selectfont, rotate=-90] at (324pt,-197.5pt) {L-T2 mode};
\node[font=\fontsize{11}{13}\selectfont] at (165pt,-270pt) {(a)};
\node[font=\fontsize{13}{15}\selectfont] at (165pt,-295pt) {L1 mode};
\node[font=\fontsize{9.5}{11}\selectfont] at (85.5pt,-308.5pt) {MA};
\node[font=\fontsize{9.5}{11}\selectfont] at (249.5pt,-308.5pt) {DMLS};
\node[font=\fontsize{11}{13}\selectfont] at (165pt,-442.5pt) {(b)};
\end{tikzpicture}
\end{document}
